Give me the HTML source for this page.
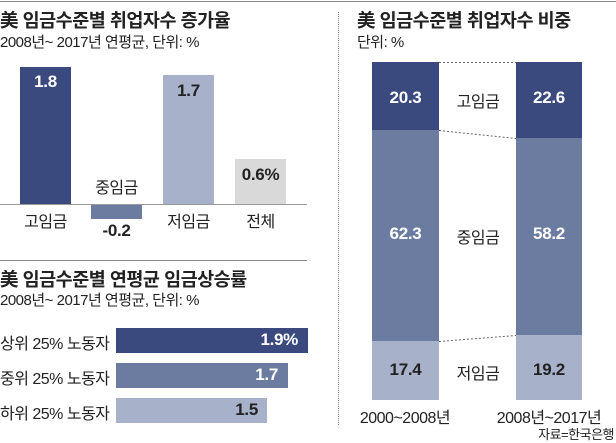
<!DOCTYPE html>
<html><head><meta charset="utf-8"><style>
body{margin:0;width:616px;height:443px;background:#fff;overflow:hidden;font-family:"Liberation Sans Narrow","Liberation Sans","Noto Sans CJK KR",sans-serif;color:#222}
.a{position:absolute;white-space:nowrap}
.t{font-size:18.5px;font-weight:bold;letter-spacing:-0.5px;font-family:"Liberation Sans","Noto Sans CJK KR",sans-serif}
.s{font-size:15px;letter-spacing:-0.5px}
.l{font-size:16px;letter-spacing:-0.5px}
.v{font-size:17px;font-weight:bold;letter-spacing:-0.3px}
.c{text-align:center}
</style></head><body>
<div class="a" style="left:0;top:1px;width:616px;height:1px;background:#888"></div>
<div class="a t" style="left:0;top:7px">美 임금수준별 취업자수 증가율</div>
<div class="a s" style="left:0;top:31px">2008년~ 2017년 연평균, 단위: %</div>
<div class="a" style="left:20px;top:67px;width:51px;height:137px;background:#3a4a7e"></div>
<div class="a" style="left:91px;top:204px;width:51px;height:15px;background:#6b7ca0"></div>
<div class="a" style="left:163px;top:75px;width:51px;height:129px;background:#a7b1c9"></div>
<div class="a" style="left:235px;top:159px;width:51px;height:45px;background:#d9d9d9"></div>
<div class="a" style="left:0;top:204px;width:307px;height:1px;background:#999"></div>
<div class="a v c" style="left:20px;width:51px;top:72px;color:#fff">1.8</div>
<div class="a v c" style="left:163px;width:51px;top:81px">1.7</div>
<div class="a v c" style="left:235px;width:51px;top:165px">0.6%</div>
<div class="a l c" style="left:86px;width:61px;top:174px">중임금</div>
<div class="a v c" style="left:91px;width:51px;top:221px">-0.2</div>
<div class="a l c" style="left:15px;width:61px;top:208px">고임금</div>
<div class="a l c" style="left:158px;width:61px;top:208px">저임금</div>
<div class="a l c" style="left:230px;width:61px;top:208px">전체</div>

<div class="a" style="left:0;top:260px;width:307px;height:1px;background:#888"></div>
<div class="a t" style="left:0;top:266px">美 임금수준별 연평균 임금상승률</div>
<div class="a s" style="left:0;top:289px">2008년~ 2017년 연평균, 단위: %</div>
<div class="a l" style="left:0;top:330px">상위 25% 노동자</div>
<div class="a l" style="left:0;top:365px">중위 25% 노동자</div>
<div class="a l" style="left:0;top:400px">하위 25% 노동자</div>
<div class="a" style="left:116px;top:328px;width:192px;height:25px;background:#3a4a7e"></div>
<div class="a" style="left:116px;top:363px;width:172px;height:25px;background:#6b7ca0"></div>
<div class="a" style="left:116px;top:398px;width:151px;height:25px;background:#a7b1c9"></div>
<div class="a v" style="right:318px;top:330px;color:#fff">1.9%</div>
<div class="a v" style="right:338px;top:365px;color:#fff">1.7</div>
<div class="a v" style="right:358px;top:400px">1.5</div>

<div class="a" style="left:338px;top:12px;height:413px;border-left:1px dotted #888"></div>
<div class="a t" style="left:357px;top:7px">美 임금수준별 취업자수 비중</div>
<div class="a s" style="left:357px;top:31px">단위: %</div>
<div class="a" style="left:372px;top:62px;width:67px;height:68px;background:#3a4a7e"></div>
<div class="a" style="left:372px;top:130px;width:67px;height:211px;background:#6b7ca0"></div>
<div class="a" style="left:372px;top:341px;width:67px;height:59px;background:#a7b1c9"></div>
<div class="a" style="left:516px;top:62px;width:66px;height:76px;background:#3a4a7e"></div>
<div class="a" style="left:516px;top:138px;width:66px;height:197px;background:#6b7ca0"></div>
<div class="a" style="left:516px;top:335px;width:66px;height:65px;background:#a7b1c9"></div>
<svg class="a" style="left:0;top:0" width="616" height="443"><g stroke="#666" stroke-width="1" stroke-dasharray="2,2"><line x1="439" y1="62.5" x2="516" y2="62.5"/><line x1="439" y1="130.5" x2="516" y2="138.5"/><line x1="439" y1="341.5" x2="516" y2="335.5"/></g></svg>
<div class="a v c" style="left:372px;width:67px;top:88px;color:#fff">20.3</div>
<div class="a v c" style="left:372px;width:67px;top:224px;color:#fff">62.3</div>
<div class="a v c" style="left:372px;width:67px;top:360px">17.4</div>
<div class="a v c" style="left:516px;width:66px;top:88px;color:#fff">22.6</div>
<div class="a v c" style="left:516px;width:66px;top:224px;color:#fff">58.2</div>
<div class="a v c" style="left:516px;width:66px;top:360px">19.2</div>
<div class="a l c" style="left:445px;width:66px;top:88px">고임금</div>
<div class="a l c" style="left:445px;width:66px;top:224px">중임금</div>
<div class="a l c" style="left:445px;width:66px;top:360px">저임금</div>
<div class="a l c" style="left:355px;width:100px;top:404px">2000~2008년</div>
<div class="a l c" style="left:494px;width:110px;top:404px">2008년~2017년</div>
<div class="a" style="right:2px;top:424px;font-size:13px;letter-spacing:-0.5px">자료=한국은행</div>
</body></html>
